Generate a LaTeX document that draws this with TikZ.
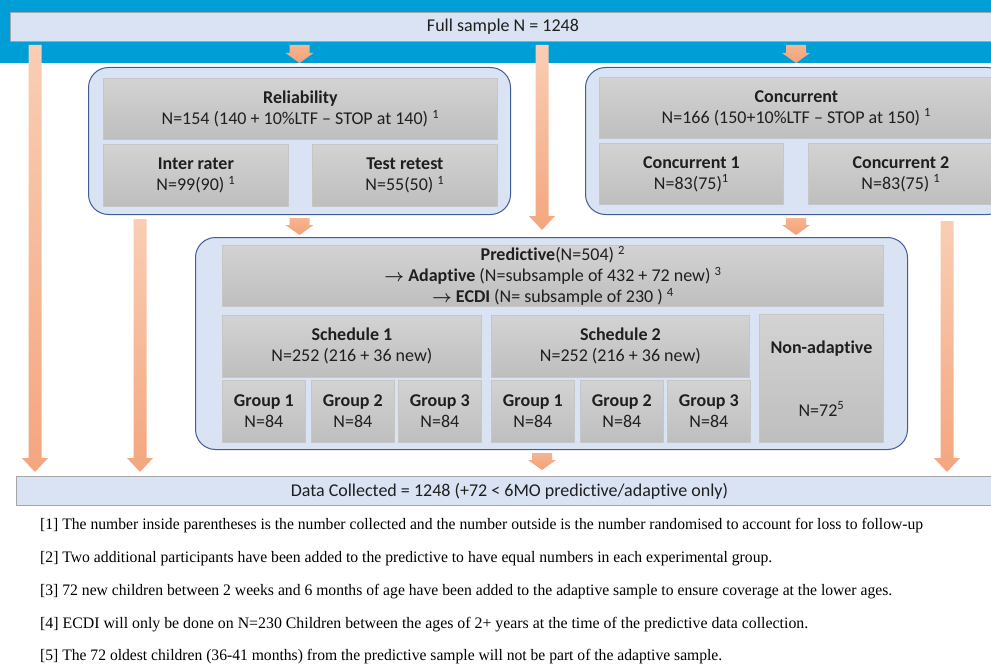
\documentclass[tikz,border=0pt]{standalone}
\usepackage{graphicx}
\usepackage{fontspec}
\setmainfont{Carlito}[Ligatures={TeX,NoCommon}]
\newfontfamily\notefont{Liberation Serif}
\usetikzlibrary{calc}

\definecolor{bandblue}{RGB}{0,158,214}
\definecolor{paleblue}{RGB}{218,227,243}
\definecolor{grpline}{RGB}{63,93,150}
\definecolor{boxtop}{RGB}{211,211,211}
\definecolor{boxbot}{RGB}{190,190,190}
\definecolor{boxline}{RGB}{198,198,198}
\definecolor{arrowtop}{RGB}{249,206,180}
\definecolor{arrowbot}{RGB}{244,166,126}
\definecolor{tiptop}{RGB}{246,180,144}
\definecolor{tipbot}{RGB}{243,162,120}

% block arrow: from, tip, half body, half head, head length, style
\newcommand{\blockarrow}[6]{%
	\shade[#6] ($(#1)+(-#3,0)$) -- ($(#2)+(-#3,-#5)$) -- ($(#2)+(-#4,-#5)$) -- (#2)
	-- ($(#2)+(#4,-#5)$) -- ($(#2)+(#3,-#5)$) -- ($(#1)+(#3,0)$) -- cycle;}
\newcommand{\longarrow}[2]{\blockarrow{#1}{#2}{6.5}{13}{14}{longarr}}
\newcommand{\shortarrow}[2]{\blockarrow{#1}{#2}{10}{14}{10}{shortarr}}

\begin{document}
\begin{tikzpicture}[x=1pt, y=-1pt,
		every node/.style={font=\fontsize{18}{21}\selectfont, text=black!88},
		bar/.style={draw=black!35, fill=paleblue, anchor=north west, inner sep=0pt, line width=0.9pt},
		grp/.style={draw=grpline, fill=paleblue, rounded corners=20pt, anchor=north west, inner sep=0pt, line width=1pt},
		cell/.style={draw=boxline, top color=boxtop, bottom color=boxbot, anchor=north west, inner sep=0pt, align=center, line width=0.8pt},
		note/.style={font=\notefont\fontsize{16}{18}\selectfont, text=black, anchor=west, inner sep=0pt},
		longarr/.style={top color=arrowtop, bottom color=arrowbot},
		shortarr/.style={top color=tiptop, bottom color=tipbot}]
	\clip (0,0) rectangle (991,666);
	\fill[white] (0,0) rectangle (991,666);
	\fill[bandblue] (0,0) rectangle (991,63);
	
	% bars
	\node[bar, minimum width=985pt, minimum height=29pt] (full) at (10,12) {Full sample N = 1248};
	\node[bar, minimum width=986pt, minimum height=29pt] (data) at (16,476) {Data Collected = 1248 (+72 < 6MO predictive/adaptive only)};
	
	% reliability
	\node[grp, minimum width=422pt, minimum height=147pt] (relgrp) at (88,67) {};
	\node[cell, minimum width=394pt, minimum height=61pt] (rel) at (103,78)
	{\textbf{Reliability}\\N=154 (140 + 10\%LTF -- STOP at 140) \textsuperscript{1}};
	\node[cell, minimum width=185pt, minimum height=62pt] (inter) at (103,144)
	{\textbf{Inter rater}\\N=99(90) \textsuperscript{1}};
	\node[cell, minimum width=185pt, minimum height=62pt] (retest) at (312,144)
	{\textbf{Test retest}\\N=55(50) \textsuperscript{1}};
	
	% concurrent
	\node[grp, minimum width=422pt, minimum height=147pt] (concgrp) at (585,67) {};
	\node[cell, minimum width=394pt, minimum height=61pt] (conc) at (599,77)
	{\textbf{Concurrent}\\N=166 (150+10\%LTF -- STOP at 150) \textsuperscript{1}};
	\node[cell, minimum width=184pt, minimum height=61pt] (concA) at (599,143)
	{\textbf{Concurrent 1}\\N=83(75)\textsuperscript{1}};
	\node[cell, minimum width=185pt, minimum height=61pt] (concB) at (808,143)
	{\textbf{Concurrent 2}\\N=83(75) \textsuperscript{1}};
	
	% predictive
	\node[grp, minimum width=712pt, minimum height=212pt] (predgrp) at (195,237) {};
	\node[cell, minimum width=661pt, minimum height=61pt] (pred) at (222,245)
	{\textbf{Predictive}(N=504) \textsuperscript{2}\\
		{\boldmath$\rightarrow$} \textbf{Adaptive} (N=subsample of 432 + 72 new) \textsuperscript{3}\\
		{\boldmath$\rightarrow$} \textbf{ECDI} (N= subsample of 230 ) \textsuperscript{4}};
	\node[cell, minimum width=259pt, minimum height=62pt] (schedA) at (222,315)
	{\textbf{Schedule 1}\\N=252 (216 + 36 new)};
	\node[cell, minimum width=258pt, minimum height=62pt] (schedB) at (491,315)
	{\textbf{Schedule 2}\\N=252 (216 + 36 new)};
	\node[cell, minimum width=124pt, minimum height=128pt] (nonadapt) at (759,314)
	{\textbf{Non-adaptive}\\[42pt]N=72\textsuperscript{5}};
	\foreach \sx/\sn in {222/A, 491/B}{
		\node[cell, minimum width=83pt, minimum height=62pt] (grp1\sn) at (\sx,380) {\textbf{Group 1}\\N=84};
		\node[cell, minimum width=83pt, minimum height=62pt] (grp2\sn) at (\sx+89,380) {\textbf{Group 2}\\N=84};
		\node[cell, minimum width=83pt, minimum height=62pt] (grp3\sn) at (\sx+176,380) {\textbf{Group 3}\\N=84};
	}
	
	% arrow columns
	\coordinate (leftx) at (35,0);
	\coordinate (inx) at (140,0);
	\coordinate (midx) at (542,0);
	\coordinate (concx) at (796,0);
	\coordinate (rightx) at (947,0);
	
	\coordinate (a1s) at ($(full.south -| leftx)+(0,3)$);
	\coordinate (a1e) at ($(data.north -| leftx)+(0,-4)$);
	\coordinate (a2s) at ($(full.south -| relgrp.north)+(0,3)$);
	\coordinate (a2e) at ($(relgrp.north)+(0,-4)$);
	\coordinate (a3s) at ($(full.south -| midx)+(0,3)$);
	\coordinate (a3e) at ($(predgrp.north -| midx)+(0,-7)$);
	\coordinate (a4s) at ($(full.south -| concx)+(0,3)$);
	\coordinate (a4e) at ($(concgrp.north -| concx)+(0,-4)$);
	\coordinate (a5s) at ($(relgrp.south)+(0,3)$);
	\coordinate (a5e) at ($(predgrp.north -| relgrp.south)+(0,-2)$);
	\coordinate (a6s) at ($(relgrp.south -| inx)+(0,4)$);
	\coordinate (a6e) at ($(data.north -| inx)+(0,-4)$);
	\coordinate (a7s) at ($(concgrp.south -| concx)+(0,3)$);
	\coordinate (a7e) at ($(predgrp.north -| concx)+(0,-2)$);
	\coordinate (a8s) at ($(concgrp.south -| rightx)+(0,6)$);
	\coordinate (a8e) at ($(data.north -| rightx)+(0,-4)$);
	\coordinate (a9s) at ($(predgrp.south -| midx)+(0,3)$);
	\coordinate (a9e) at ($(data.north -| midx)+(0,-6)$);
	
	\longarrow{a1s}{a1e}
	\shortarrow{a2s}{a2e}
	\longarrow{a3s}{a3e}
	\shortarrow{a4s}{a4e}
	\shortarrow{a5s}{a5e}
	\longarrow{a6s}{a6e}
	\shortarrow{a7s}{a7e}
	\longarrow{a8s}{a8e}
	\shortarrow{a9s}{a9e}
	
	% footnotes
	\node[note] (fn1) at (40,526) {\resizebox{883pt}{\height}{[1] The number inside parentheses is the number collected and the number outside is the number randomised to account for loss to follow-up}};
	\node[note] (fn2) at (40,559) {\resizebox{732pt}{\height}{[2] Two additional participants have been added to the predictive to have equal numbers in each experimental group.}};
	\node[note] (fn3) at (40,592) {\resizebox{852pt}{\height}{[3] 72 new children between 2 weeks and 6 months of age have been added to the adaptive sample to ensure coverage at the lower ages.}};
	\node[note] (fn4) at (40,625) {\resizebox{768pt}{\height}{[4] ECDI will only be done on N=230 Children between the ages of 2+ years at the time of the predictive data collection.}};
	\node[note] (fn5) at (40,657) {\resizebox{682pt}{\height}{[5] The 72 oldest children (36-41 months) from the predictive sample will not be part of the adaptive sample.}};
\end{tikzpicture}
\end{document}
